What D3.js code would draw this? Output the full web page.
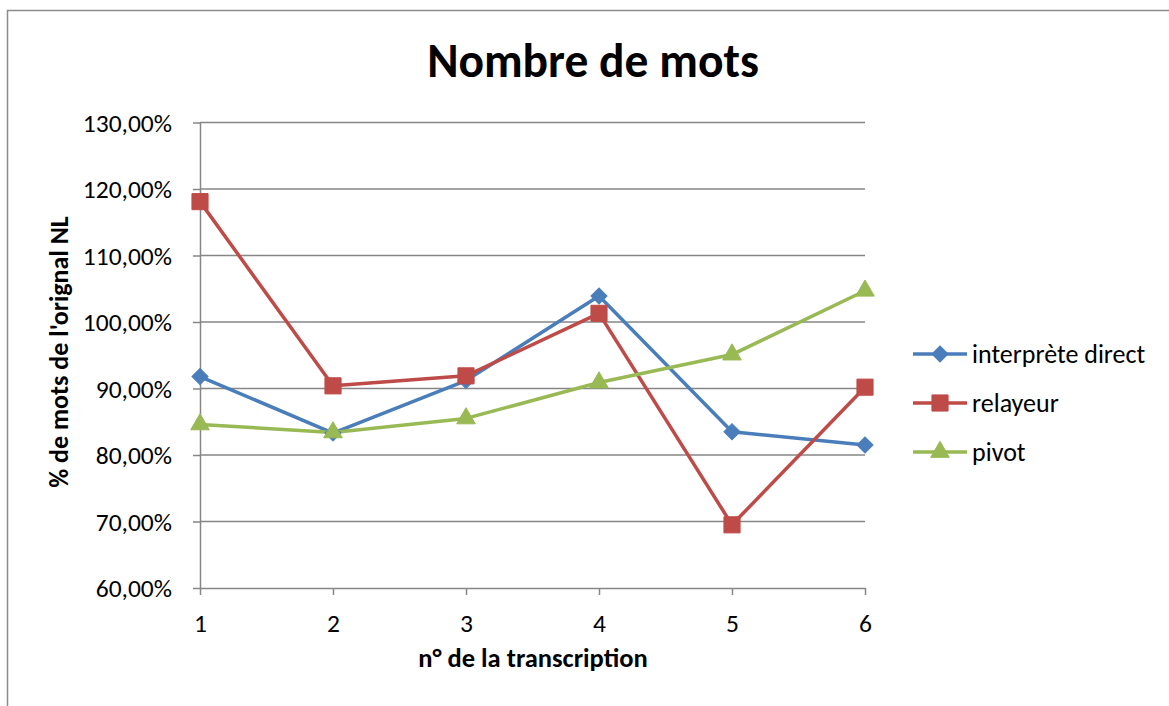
<!DOCTYPE html>
<html>
<head>
<meta charset="utf-8">
<script src="https://cdn.jsdelivr.net/npm/d3@7"></script>
<style>
  body { margin: 0; background: #fff; }
  svg text { font-family: Carlito, Calibri, Lato, sans-serif; fill: #000; }
</style>
</head>
<body>
<div class="chart"></div>
<script>
// Données
const categories = [1, 2, 3, 4, 5, 6];
const seriesNames = ['interprète direct', 'relayeur', 'pivot'];
const interpreteDirect = [0.918, 0.833, 0.912, 1.039, 0.835, 0.815];
const relayeur = [1.181, 0.904, 0.919, 1.013, 0.695, 0.902];
const pivot = [0.846, 0.834, 0.855, 0.909, 0.951, 1.047];
const yTicks = [0.6, 0.7, 0.8, 0.9, 1.0, 1.1, 1.2, 1.3];

const colors = ['#4A7EBB', '#BE4B48', '#98B954'];

const series = [interpreteDirect, relayeur, pivot].map((values, i) => ({
    name: seriesNames[i],
    color: colors[i],
    values: values.map((v, j) => ({ x: categories[j], y: v }))
}));

const width = 1169, height = 706;
const svg = d3.select('.chart').append('svg')
    .attr('width', width).attr('height', height);

// cadre du graphique
svg.append('rect')
    .attr('x', 7.5).attr('y', 10.5)
    .attr('width', 1200).attr('height', 760)
    .attr('fill', 'none').attr('stroke', '#8c8c8c').attr('stroke-width', 1.5);

const xScale = d3.scaleLinear().domain([1, 6]).range([200, 865]);
const yScale = d3.scaleLinear().domain([0.6, 1.3]).range([588, 122.5]);

// grille horizontale
svg.append('g').selectAll('line').data(yTicks.slice(1)).join('line')
    .attr('x1', 200).attr('x2', 865)
    .attr('y1', d => yScale(d)).attr('y2', d => yScale(d))
    .attr('stroke', '#868686').attr('stroke-width', 1.5);

const fmt = d => d3.format('.2f')(d * 100).replace('.', ',') + '%';

const yAxis = d3.axisLeft(yScale).tickValues(yTicks).tickFormat(fmt)
    .tickSizeInner(7).tickSizeOuter(0).tickPadding(21);
const yAxisDraw = svg.append('g').attr('transform', 'translate(200,0)').call(yAxis);

const xAxis = d3.axisBottom(xScale).tickValues(categories).tickFormat(d3.format('d'))
    .tickSizeInner(7).tickSizeOuter(0).tickPadding(19);
const xAxisDraw = svg.append('g').attr('transform', 'translate(0,588)').call(xAxis);

[yAxisDraw, xAxisDraw].forEach(a => {
    a.select('.domain').attr('stroke', '#868686').attr('stroke-width', 1.5);
    a.selectAll('.tick line').attr('stroke', '#868686').attr('stroke-width', 1.5);
    a.selectAll('text').style('font-size', '25.5px').attr('fill', '#000');
});
yAxisDraw.selectAll('text').attr('dy', '0.35em');

// symboles
const diamond = d3.symbol().type(d3.symbolSquare).size(130);
const square = d3.symbol().type(d3.symbolSquare).size(260);
const triangle = d3.symbol().type(d3.symbolTriangle).size(150);
const symbols = [diamond, square, triangle];
const rotations = [45, 0, 0];

const line = d3.line().x(d => xScale(d.x)).y(d => yScale(d.y));

series.forEach((s, i) => {
    svg.append('path').datum(s.values)
        .attr('d', line)
        .attr('fill', 'none').attr('stroke', s.color)
        .attr('stroke-width', 3.5).attr('stroke-linejoin', 'round');
});
series.forEach((s, i) => {
    svg.append('g').selectAll('path').data(s.values).join('path')
        .attr('d', symbols[i])
        .attr('transform', d => `translate(${xScale(d.x)},${yScale(d.y)}) rotate(${rotations[i]})`)
        .attr('fill', s.color).attr('stroke', s.color).attr('stroke-width', 1);
});

// titre
svg.append('text').attr('x', 593).attr('y', 77)
    .attr('text-anchor', 'middle')
    .style('font-size', '47.5px').style('font-weight', 'bold')
    .text('Nombre de mots');

// titres des axes
svg.append('text').attr('x', 533).attr('y', 667)
    .attr('text-anchor', 'middle')
    .style('font-size', '26.5px').style('font-weight', 'bold')
    .text('n° de la transcription');

svg.append('text')
    .attr('transform', 'translate(68,352) rotate(-90)')
    .attr('text-anchor', 'middle')
    .style('font-size', '26px').style('font-weight', 'bold')
    .text("% de mots de l'orignal NL");

// légende
const legendY = [354, 403, 452];
const legend = svg.append('g').selectAll('g').data(series).join('g')
    .attr('transform', (d, i) => `translate(913,${legendY[i]})`);
legend.append('line').attr('x1', 0).attr('x2', 54).attr('y1', 0).attr('y2', 0)
    .attr('stroke', d => d.color).attr('stroke-width', 3.5);
legend.append('path')
    .attr('d', (d, i) => symbols[i]())
    .attr('transform', (d, i) => `translate(27,0) rotate(${rotations[i]})`)
    .attr('fill', d => d.color).attr('stroke', d => d.color);
legend.append('text').attr('x', 59).attr('y', 0).attr('dy', '0.35em')
    .style('font-size', '26px')
    .text(d => d.name);
</script>
</body>
</html>
